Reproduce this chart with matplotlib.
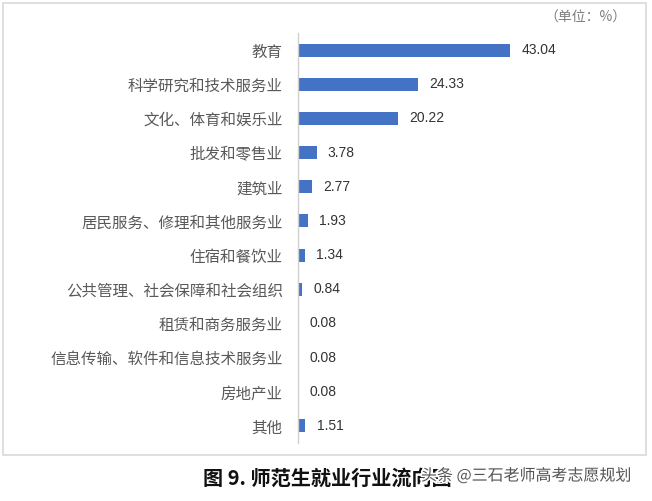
import matplotlib
matplotlib.use("Agg")
import matplotlib.pyplot as plt
from matplotlib.patches import Rectangle
import matplotlib.patheffects as pe

plt.rcParams['font.family'] = ['Noto Sans CJK SC', 'DejaVu Sans']

categories = ["教育", "科学研究和技术服务业", "文化、体育和娱乐业", "批发和零售业", "建筑业",
              "居民服务、修理和其他服务业", "住宿和餐饮业", "公共管理、社会保障和社会组织",
              "租赁和商务服务业", "信息传输、软件和信息技术服务业", "房地产业", "其他"]
values = [43.04, 24.33, 20.22, 3.78, 2.77, 1.93, 1.34, 0.84, 0.08, 0.08, 0.08, 1.51]
value_labels = ["43.04", "24.33", "20.22", "3.78", "2.77", "1.93", "1.34", "0.84",
                "0.08", "0.08", "0.08", "1.51"]

W, H = 652, 501
fig = plt.figure(figsize=(W / 100, H / 100), dpi=100)
fig.patch.set_facecolor("white")

# outer light border
fig.patches.append(Rectangle((3 / W, 1 - 455 / H), (646 - 3) / W, (455 - 3) / H,
                             transform=fig.transFigure, fill=False,
                             edgecolor="#d9d9d9", linewidth=1.2))

left, right = 298 / W, 640 / W
top, bottom = 1 - 33 / H, 1 - 443 / H
ax = fig.add_axes([left, bottom, right - left, top - bottom])
ypos = list(range(len(categories)))
ax.barh(ypos, values, height=0.38, color="#4472c4")
ax.set_ylim(len(categories) - 0.5, -0.5)
ax.set_xlim(0, (640 - 298) / 4.93)
ax.set_yticks(ypos)
ax.set_yticklabels(categories, fontsize=11.2, color="#595959")
ax.tick_params(axis="y", length=0, pad=11)
ax.set_xticks([])
for s in ["top", "right", "bottom"]:
    ax.spines[s].set_visible(False)
ax.spines["left"].set_color("#d0d0d0")
ax.spines["left"].set_linewidth(1)

for y, v, lab in zip(ypos, values, value_labels):
    ax.annotate(lab, (v, y), xytext=(8, 0), textcoords="offset points",
                va="center", ha="left", fontsize=10, color="#333333",
                fontweight="medium", family=["Liberation Sans", "DejaVu Sans"])

fig.text(626 / W, 1 - 18 / H, "（单位：%）", ha="right", va="center",
         fontsize=10, color="#7f7f7f")

fig.text(203 / W, 1 - 478 / H, "图 9. 师范生就业行业流向图", ha="left", va="center",
         fontsize=14.5, fontweight="bold", color="#111111")
fig.text(421 / W, 1 - 476 / H, "头条 @三石老师高考志愿规划", ha="left", va="center",
         fontsize=11.5, color="#555555",
         path_effects=[pe.withStroke(linewidth=2.5, foreground="white")])

fig.savefig("out.png", dpi=100, facecolor="white")
